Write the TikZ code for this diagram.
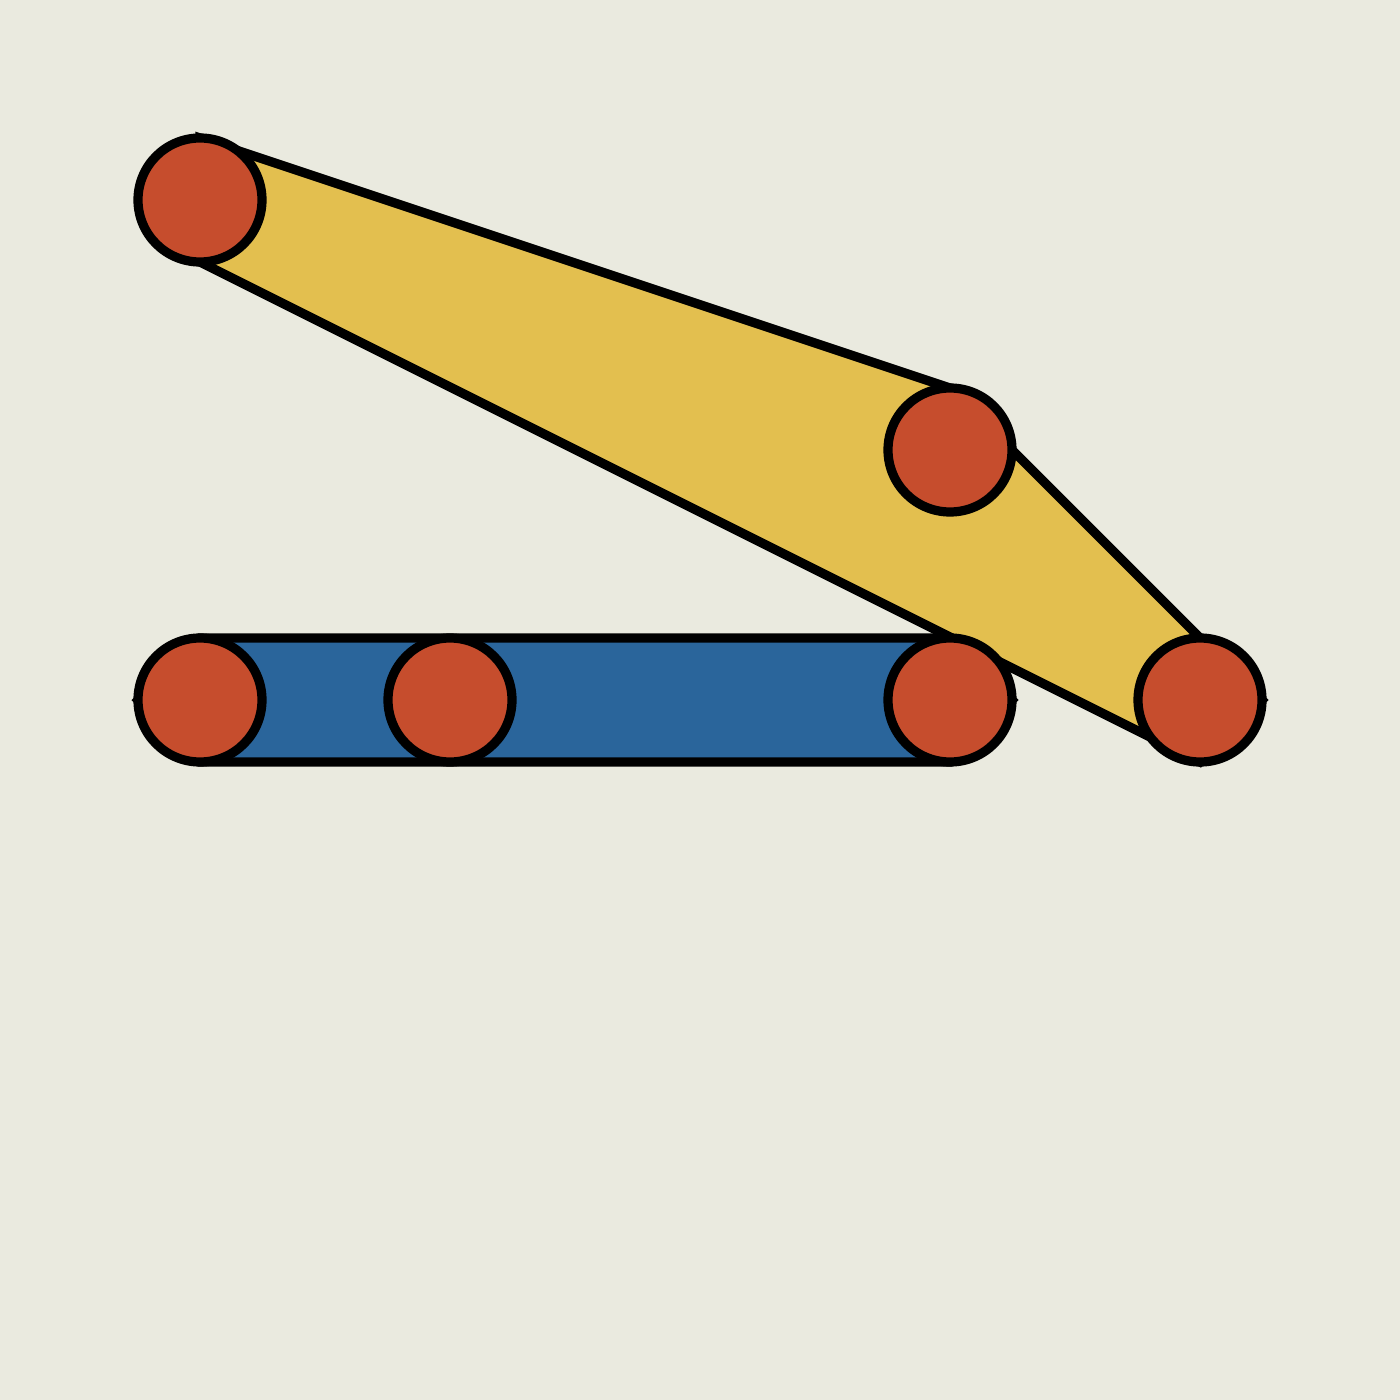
\documentclass[tikz,border=0pt]{standalone}
\pgfdeclarelayer{bg}
\pgfdeclarelayer{hulls}
\pgfsetlayers{bg,hulls,main}
\definecolor{paper}{HTML}{EAEADF}
\definecolor{hullyellow}{HTML}{E3BF4F}
\definecolor{hullblue}{HTML}{2A659B}
\definecolor{pointred}{HTML}{C64D2D}
\begin{document}
\begin{tikzpicture}[x=0.5pt,y=-0.5pt,
  pt/.style={circle,draw=black,fill=pointred,line width=4.6pt,minimum size=62pt,inner sep=0pt,outer sep=0pt},
  hull/.style={draw=black,line width=4.6pt,line join=miter}]
\begin{pgfonlayer}{bg}
\fill[paper] (0,0) rectangle (1400,1400);
\useasboundingbox (0,0) rectangle (1400,1400);
\end{pgfonlayer}
\node[pt] (a) at (200,200) {};
\node[pt] (b) at (950,450) {};
\node[pt] (d) at (1200,700) {};
\node[pt] (e) at (200,700) {};
\node[pt] (f) at (450,700) {};
\node[pt] (c) at (950,700) {};
\begin{pgfonlayer}{hulls}
\draw[hull,fill=hullyellow] (a.north) -- (b.north) -- (b.east) -- (d.north) -- (d.east) -- (d.south) -- (a.south) -- cycle;
\draw[hull,fill=hullblue] (e.west) -- (e.north) -- (c.north) -- (c.east) -- (c.south) -- (e.south) -- cycle;
\end{pgfonlayer}
\end{tikzpicture}
\end{document}
